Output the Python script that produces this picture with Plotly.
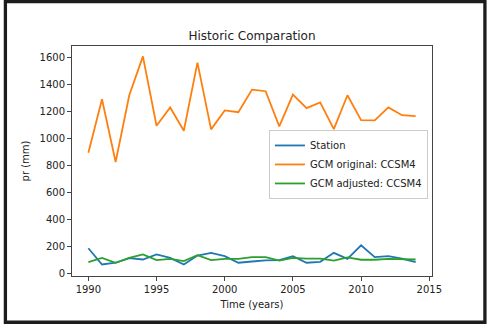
import plotly.graph_objects as go

years = list(range(1990, 2015))
station = [188, 68, 81, 115, 105, 142, 117, 68, 134, 154, 130, 81, 90,
           98, 100, 130, 81, 88, 154, 110, 210, 122, 130, 112, 85]
gcm_original = [894, 1289, 825, 1318, 1605, 1093, 1228, 1056, 1559, 1066,
                1206, 1193, 1360, 1348, 1088, 1323, 1223, 1265, 1068, 1318,
                1134, 1132, 1228, 1171, 1164]
gcm_adjusted = [86, 117, 81, 117, 142, 100, 110, 93, 137, 100, 110, 110, 122,
                122, 96, 117, 112, 112, 96, 120, 103, 103, 110, 105, 105]

font = "DejaVu Sans, sans-serif"
fig = go.Figure()
fig.add_trace(go.Scatter(x=years, y=station, mode="lines", name="Station",
                         line=dict(color="#1f77b4", width=1.8)))
fig.add_trace(go.Scatter(x=years, y=gcm_original, mode="lines", name="GCM original: CCSM4",
                         line=dict(color="#ff7f0e", width=1.8)))
fig.add_trace(go.Scatter(x=years, y=gcm_adjusted, mode="lines", name="GCM adjusted: CCSM4",
                         line=dict(color="#2ca02c", width=1.8)))

axis_common = dict(showgrid=False, zeroline=False, showline=True, mirror=True,
                   linecolor="#444", linewidth=1, ticks="outside", ticklen=4,
                   tickcolor="#444", tickfont=dict(family=font, size=10, color="#222"))
fig.update_xaxes(range=[1988.8, 2015.2], tickvals=[1990, 1995, 2000, 2005, 2010, 2015],
                 title=dict(text="Time (years)", font=dict(family=font, size=10, color="#222"),
                            standoff=6), **axis_common)
fig.update_yaxes(range=[-17, 1682], tickvals=[0, 200, 400, 600, 800, 1000, 1200, 1400, 1600],
                 title=dict(text="pr (mm)", font=dict(family=font, size=10, color="#222"),
                            standoff=8), **axis_common)

fig.update_layout(
    width=488, height=328,
    margin=dict(l=72, r=56, t=46, b=52, autoexpand=False),
    paper_bgcolor="white", plot_bgcolor="white",
    title=dict(text="Historic Comparation", x=0.5, xref="paper", y=0.89, yref="container",
               xanchor="center", yanchor="middle",
               font=dict(family=font, size=12, color="#222")),
    legend=dict(x=0.547, y=0.635, xanchor="left", yanchor="top",
                bgcolor="white", bordercolor="#ccc", borderwidth=1,
                font=dict(family=font, size=10, color="#222"), itemwidth=30,
                tracegroupgap=0),
    showlegend=True,
)
fig.add_shape(type="rect", xref="paper", yref="paper",
              x0=-0.185, x1=1.147, y0=-0.201, y1=1.193,
              line=dict(color="#1c1c1c", width=3.3), layer="above")

fig.write_html("out.html", config={"displayModeBar": False},
               post_script="document.body.style.margin='0';document.body.style.overflow='hidden';")
